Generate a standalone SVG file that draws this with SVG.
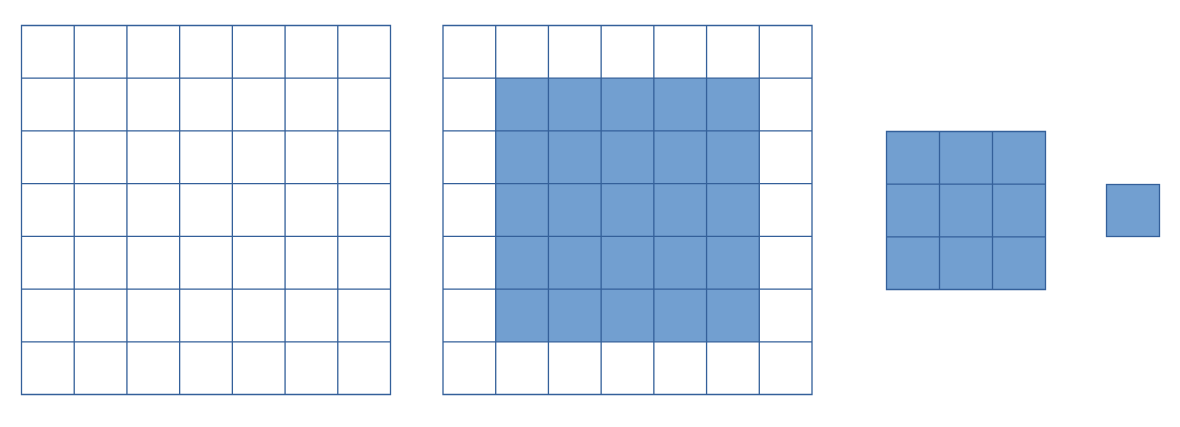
<svg xmlns="http://www.w3.org/2000/svg" width="1180" height="427" viewBox="0 0 1180 427">
<defs>
<style>
.g{fill:none;stroke:#34609A;stroke-width:1.3}
.f{fill:#729FD0;stroke:none}
</style>
<pattern id="cell" x="0" y="0" width="52.714" height="52.714" patternUnits="userSpaceOnUse"/>
</defs>
<rect width="1180" height="427" fill="#ffffff"/>
<g id="grid1" transform="translate(21.5,25.5)">
<path class="g" d="M0,0H369V369H0Z M52.714,0V369 M105.43,0V369 M158.14,0V369 M210.86,0V369 M263.57,0V369 M316.29,0V369 M0,52.714H369 M0,105.43H369 M0,158.14H369 M0,210.86H369 M0,263.57H369 M0,316.29H369"/>
</g>
<g id="grid2" transform="translate(443,25.5)">
<rect class="f" x="52.714" y="52.714" width="263.57" height="263.57"/>
<path class="g" d="M0,0H369V369H0Z M52.714,0V369 M105.43,0V369 M158.14,0V369 M210.86,0V369 M263.57,0V369 M316.29,0V369 M0,52.714H369 M0,105.43H369 M0,158.14H369 M0,210.86H369 M0,263.57H369 M0,316.29H369"/>
</g>
<g id="grid3" transform="translate(886.5,131.5)">
<rect class="f" x="0" y="0" width="159" height="158"/>
<path class="g" d="M0,0H159V158H0Z M53,0V158 M106,0V158 M0,52.7H159 M0,105.3H159"/>
</g>
<g id="cell1" transform="translate(1106.5,184.5)">
<rect class="f" x="0" y="0" width="53" height="52"/>
<rect class="g" x="0" y="0" width="53" height="52"/>
</g>
</svg>
